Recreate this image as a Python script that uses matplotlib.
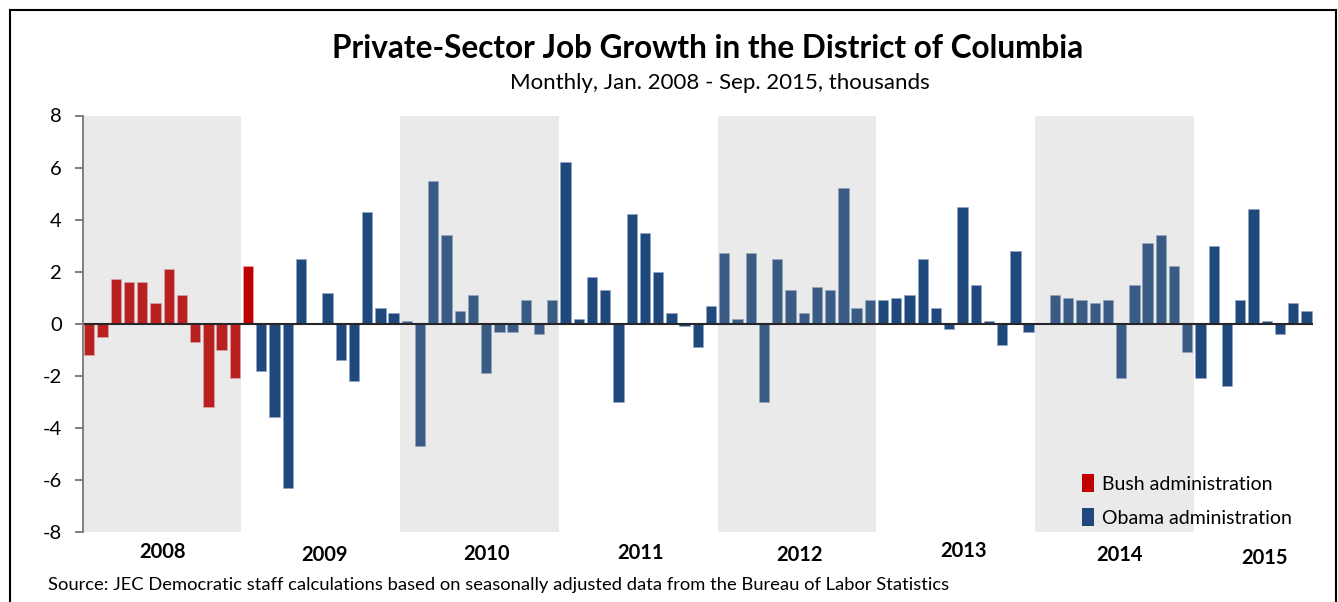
import matplotlib
matplotlib.use("Agg")
import matplotlib.pyplot as plt
from matplotlib.patches import Patch
from matplotlib.lines import Line2D
import matplotlib.transforms as mtransforms
import numpy as np

# ---------------- data ----------------
years = ["2008", "2009", "2010", "2011", "2012", "2013", "2014", "2015"]
bush_values = [-1.2, -0.5, 1.7, 1.6, 1.6, 0.8, 2.1, 1.1, -0.7, -3.2, -1.0, -2.1,  # 2008
               2.2]                                                           # Jan 2009
obama_values = [
    -1.8, -3.6, -6.3, 2.5, 0.0, 1.2, -1.4, -2.2, 4.3, 0.6, 0.4,              # Feb-Dec 2009
    0.1, -4.7, 5.5, 3.4, 0.5, 1.1, -1.9, -0.3, -0.3, 0.9, -0.4, 0.9,        # 2010
    6.2, 0.2, 1.8, 1.3, -3.0, 4.2, 3.5, 2.0, 0.4, -0.1, -0.9, 0.7,          # 2011
    2.7, 0.2, 2.7, -3.0, 2.5, 1.3, 0.4, 1.4, 1.3, 5.2, 0.6, 0.9,            # 2012
    0.9, 1.0, 1.1, 2.5, 0.6, -0.2, 4.5, 1.5, 0.1, -0.8, 2.8, -0.3,          # 2013
    0.0, 1.1, 1.0, 0.9, 0.8, 0.9, -2.1, 1.5, 3.1, 3.4, 2.2, -1.1,           # 2014
    -2.1, 3.0, -2.4, 0.9, 4.4, 0.1, -0.4, 0.8, 0.5,                          # Jan-Sep 2015
]
months_per_year = [12, 12, 12, 12, 12, 12, 12, 9]
legend_labels = ["Bush administration", "Obama administration"]
yticks = [-8, -6, -4, -2, 0, 2, 4, 6, 8]

title = "Private-Sector Job Growth in the District of Columbia"
subtitle = "Monthly, Jan. 2008 - Sep. 2015, thousands"
source = "Source: JEC Democratic staff calculations based on seasonally adjusted data from the Bureau of Labor Statistics"

# ---------------- style / layout ----------------
FONT = ["Lato", "DejaVu Sans"]
plt.rcParams["font.family"] = FONT
RED = "#C00000"
BLUE = "#1F497D"
W, H, DPI = 1338, 602, 100
label_dx = [0.0, 0.25, 0.55, 0.2, 0.15, 0.55, 0.35, 0.85]   # small x shifts of year labels (months)
label_dy = [20, 23, 22, 21, 23, 19, 23, 26]                  # px below plot bottom

fig = plt.figure(figsize=(W / DPI, H / DPI), dpi=DPI)
L, R, T, B = 82.7, 1313.0, 115.5, 532.0
ax = fig.add_axes([L / W, 1 - B / H, (R - L) / W, (B - T) / H])

n_bush = len(bush_values)
n_obama = len(obama_values)
x_bush = np.arange(n_bush)
x_obama = np.arange(n_bush, n_bush + n_obama)
bw = 0.78

ax.bar(x_bush, bush_values, width=bw, color=RED, edgecolor="#e8b0b0", linewidth=0.4, zorder=2)
ax.bar(x_obama, obama_values, width=bw, color=BLUE, edgecolor="#8ea6c6", linewidth=0.4, zorder=2)

# shaded alternate years (translucent grey over bars)
starts = np.concatenate([[0], np.cumsum(months_per_year)[:-1]])
for i, (s, n) in enumerate(zip(starts, months_per_year)):
    if i % 2 == 0:
        ax.axvspan(s - 0.5, s + n - 0.5, ymin=0, ymax=1, color="#a0a0a0", alpha=0.21,
                   linewidth=0, zorder=3)

ax.axhline(0, color="#262626", linewidth=1.5, zorder=4)

total = n_bush + n_obama
ax.set_xlim(-0.5, total - 0.5)
ax.set_ylim(-8, 8)
ax.set_yticks(yticks)
ax.set_yticklabels([str(v) for v in yticks], fontsize=14.5)
ax.set_xticks([])
for side in ["top", "right", "bottom"]:
    ax.spines[side].set_visible(False)
ax.spines["left"].set_color("#7f7f7f")
ax.spines["left"].set_linewidth(1.4)
ax.spines["left"].set_zorder(5)
ax.tick_params(axis="y", direction="out", length=6, width=1.4, color="#7f7f7f", pad=9,
               labelcolor="black")

# year labels
trans = mtransforms.blended_transform_factory(ax.transData, ax.transAxes)
for i, (yr, s, n) in enumerate(zip(years, starts, months_per_year)):
    xc = s + (n - 1) / 2 + label_dx[i]
    yc = -label_dy[i] / (B - T)
    ax.text(xc, yc, yr, transform=trans, ha="center", va="center", fontsize=14.5,
            fontweight="bold", color="black")

# legend
handles = [Patch(facecolor=RED, edgecolor="none"), Patch(facecolor=BLUE, edgecolor="none")]
leg = ax.legend(handles, legend_labels, loc="lower left",
                bbox_to_anchor=((1082 - L) / (R - L), (B - 527) / (B - T)),
                frameon=False, fontsize=14, handlelength=0.62, handleheight=1.03,
                handletextpad=0.4, labelspacing=0.8, borderaxespad=0, borderpad=0)

# titles
fig.text(708 / W, 1 - 48 / H, title, ha="center", va="center", fontsize=22.7,
         fontweight="bold", color="black")
fig.text(720 / W, 1 - 83 / H, subtitle, ha="center", va="center", fontsize=16, color="black")
fig.text(48 / W, 1 - 585 / H, source, ha="left", va="center", fontsize=13.2, color="black")

# outer frame (left, top, right)
def px(x, y):
    return x / W, 1 - y / H
for (x0, y0), (x1, y1) in [((10, 602), (10, 10)), ((10, 10), (1336, 10)), ((1336, 10), (1336, 602))]:
    a, b = px(x0, y0)
    c, d = px(x1, y1)
    fig.add_artist(Line2D([a, c], [b, d], color="black", linewidth=1.5))

fig.savefig("out.png", dpi=DPI, facecolor="white")
